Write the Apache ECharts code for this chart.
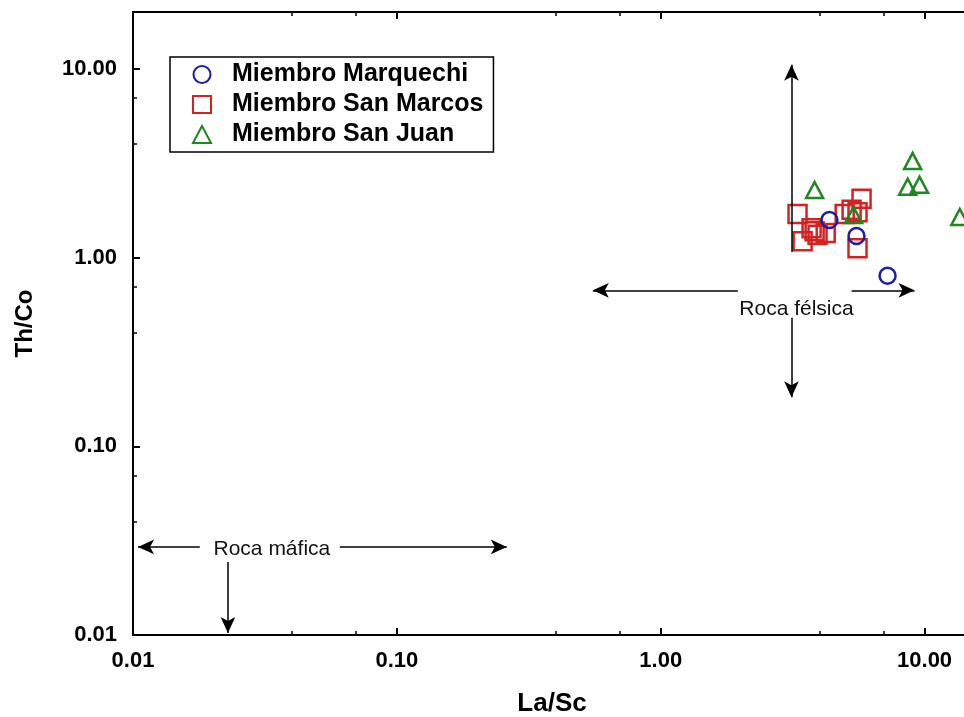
<!DOCTYPE html>
<html><head><meta charset="utf-8">
<script src="https://cdn.jsdelivr.net/npm/echarts@6/dist/echarts.min.js"></script>
<style>html,body{margin:0;padding:0;background:#fff;overflow:hidden}#c{width:964px;height:717px}</style>
</head><body><div id="c"></div>
<script>
// Data (La/Sc vs Th/Co)
const marquechiLaSc = [4.36, 5.52, 7.24];
const marquechiThCo = [1.58, 1.30, 0.80];
const sanMarcosLaSc = [3.30, 3.45, 3.73, 3.83, 3.93, 4.22, 4.98, 5.29, 5.57, 5.77, 5.57];
const sanMarcosThCo = [1.70, 1.22, 1.43, 1.38, 1.32, 1.35, 1.70, 1.79, 1.74, 2.05, 1.12];
const sanJuanLaSc = [3.83, 5.38, 8.63, 9.01, 9.57, 13.6];
const sanJuanThCo = [2.28, 1.68, 2.37, 3.25, 2.43, 1.64];
const seriesNames = ['Miembro Marquechi', 'Miembro San Marcos', 'Miembro San Juan'];
const tickValues = [0.01, 0.1, 1, 10];
const tickLabels = ['0.01', '0.10', '1.00', '10.00'];
// annotation arrows [x1, y1, x2(tip), y2(tip)] in data units
const arrows = [
  [3.13, 1.07, 3.13, 10.5],
  [1.96, 0.67, 0.553, 0.67],
  [5.29, 0.67, 9.16, 0.67],
  [3.13, 0.479, 3.13, 0.182],
  [0.0179, 0.0293, 0.01045, 0.0293],
  [0.0608, 0.0293, 0.261, 0.0293],
  [0.0229, 0.0244, 0.0229, 0.01025]
];
const notes = [
  ['Roca félsica', 3.27, 0.534],
  ['Roca máfica', 0.0336, 0.0286]
];

const FONT = "'Liberation Sans', Arial, sans-serif";
function pairs(xs, ys) { return xs.map((x, i) => [x, ys[i]]); }
function fmt(v) {
  for (let i = 0; i < tickValues.length; i++) {
    if (Math.abs(Math.log10(v) - Math.log10(tickValues[i])) < 1e-6) return tickLabels[i];
  }
  return '';
}
const axisCommon = {
  type: 'log', logBase: 10, min: 0.01, max: 20,
  splitLine: { show: false },
  axisLine: { show: true, lineStyle: { color: '#000', width: 2 } },
  axisTick: { show: true, inside: true, length: 7, lineStyle: { color: '#000', width: 2 } },
  minorTick: { show: true, splitNumber: 3, length: 4, lineStyle: { color: '#000', width: 1.5 } },
  minorSplitLine: { show: false }
};
const chart = echarts.init(document.getElementById('c'), null, { renderer: 'canvas' });
const option = {
  animation: false,
  backgroundColor: '#fff',
  grid: { left: 133, top: 12, right: -40, bottom: 82, containLabel: false, outerBoundsMode: 'none' },
  legend: {
    left: 170, top: 57, orient: 'vertical',
    borderColor: '#000', borderWidth: 1.5, backgroundColor: '#fff',
    padding: [5, 10, 5, 22], itemGap: 5, itemWidth: 18, itemHeight: 17,
    textStyle: { fontFamily: FONT, fontSize: 25, fontWeight: 'bold', color: '#000', padding: [0, 0, 0, 16] },
    data: seriesNames
  },
  xAxis: [
    Object.assign({}, axisCommon, {
      position: 'bottom',
      name: 'La/Sc', nameLocation: 'middle', nameGap: 56,
      nameTextStyle: { fontFamily: FONT, fontSize: 26, fontWeight: 'bold', color: '#000', padding: [0, 33, 0, 0] },
      axisLabel: { formatter: fmt, margin: 15, fontFamily: FONT, fontSize: 22, fontWeight: 'bold', color: '#000' }
    }),
    Object.assign({}, axisCommon, { position: 'top', axisLabel: { show: false } })
  ],
  yAxis: [
    Object.assign({}, axisCommon, {
      position: 'left',
      name: 'Th/Co', nameLocation: 'middle', nameGap: 96,
      nameTextStyle: { fontFamily: FONT, fontSize: 24, fontWeight: 'bold', color: '#000' },
      axisLabel: { formatter: fmt, margin: 16, fontFamily: FONT, fontSize: 22, fontWeight: 'bold', color: '#000' }
    })
  ],
  series: [
    {
      name: seriesNames[0], type: 'scatter', symbol: 'circle', symbolSize: 16,
      itemStyle: { color: 'rgba(255,255,255,0)', borderColor: '#1e1ea0', borderWidth: 2.5, opacity: 1 },
      data: pairs(marquechiLaSc, marquechiThCo), z: 3
    },
    {
      name: seriesNames[1], type: 'scatter', symbol: 'rect', symbolSize: 18,
      itemStyle: { color: 'rgba(255,255,255,0)', borderColor: '#d42222', borderWidth: 2.5, opacity: 1 },
      data: pairs(sanMarcosLaSc, sanMarcosThCo), z: 2
    },
    {
      name: seriesNames[2], type: 'scatter', symbol: 'triangle', symbolSize: [17, 16],
      itemStyle: { color: 'rgba(255,255,255,0)', borderColor: '#1e881e', borderWidth: 2.5, opacity: 1 },
      data: pairs(sanJuanLaSc, sanJuanThCo), z: 4
    },
    {
      name: 'annotations', type: 'scatter', data: [], silent: true,
      markLine: {
        silent: true, animation: false,
        symbol: ['none', 'arrow'], symbolSize: [11, 16],
        lineStyle: { color: '#000', width: 1.5, type: 'solid' },
        label: { show: false },
        data: arrows.map(a => [{ coord: [a[0], a[1]] }, { coord: [a[2], a[3]] }])
      },
      markPoint: {
        silent: true, symbol: 'circle', symbolSize: 1,
        itemStyle: { color: 'rgba(0,0,0,0)' },
        label: { show: true, position: 'inside', fontFamily: FONT, fontSize: 21, color: '#111', formatter: p => p.name },
        data: notes.map(n => ({ name: n[0], coord: [n[1], n[2]] }))
      }
    }
  ]
};
chart.setOption(option);
</script></body></html>
